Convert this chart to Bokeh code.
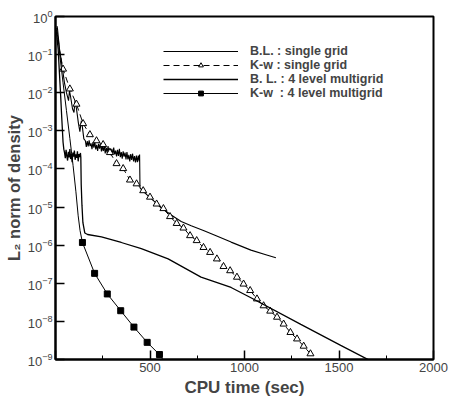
from bokeh.plotting import figure
from bokeh.models import FixedTicker, Range1d, Legend, LegendItem
from bokeh.embed import file_html
from bokeh.resources import INLINE

# ---- convergence histories: CPU time (sec) and log10 of the L2 density residual ----

# B.L. turbulence model, single grid
bl_single_t = [8, 10.6, 21, 32, 40, 47.5, 58, 69, 74, 79, 90, 98, 103, 111, 121, 129, 137, 142, 150,
               158, 163, 168, 173, 178, 183, 188, 193, 198, 203, 208, 213, 218, 223, 228, 233, 238,
               243, 248, 253, 258, 263, 268, 273, 278, 283, 288, 293, 298, 303, 308, 313, 318, 323,
               328, 333, 338, 343, 348, 353, 358, 363, 368, 373, 378, 383, 388, 393, 398, 403, 408,
               413, 418, 423, 428, 433, 438, 443, 445, 447,
               459, 507, 559, 612, 665, 718, 786, 850, 929, 1034, 1113, 1166]
bl_single_log = [-0.25, -0.32, -0.85, -1.21, -1.48, -1.74, -2.00, -2.21, -1.95, -2.08, -2.42, -2.52,
                 -2.21, -2.42, -2.79, -3.02, -2.73, -2.89, -3.21,
                 -3.26, -3.42, -3.27, -3.41, -3.25, -3.40, -3.33, -3.48, -3.30, -3.44, -3.29, -3.49,
                 -3.37, -3.53, -3.34, -3.47, -3.33, -3.54, -3.40, -3.53, -3.38, -3.59, -3.45, -3.57,
                 -3.40, -3.56, -3.45, -3.64, -3.47, -3.63, -3.44, -3.62, -3.52, -3.67, -3.50, -3.66,
                 -3.47, -3.69, -3.56, -3.73, -3.54, -3.68, -3.57, -3.75, -3.56, -3.75, -3.63, -3.80,
                 -3.61, -3.76, -3.60, -3.80, -3.66, -3.83, -3.65, -3.82, -3.65, -3.80, -3.62, -4.49,
                 -4.57, -4.78, -5.02, -5.21, -5.38, -5.49, -5.62, -5.75, -5.92, -6.13, -6.25, -6.33]

# k-omega model, single grid (line and symbols)
kw_single_line_t = [6, 20]
kw_single_line_log = [-0.30, -0.85]
kw_single_t = [40, 76, 111, 146, 182, 217, 252, 288, 323, 358, 394, 429, 464, 500, 535, 571, 606,
               641, 677, 712, 747, 783, 818, 854, 889, 924, 960, 995, 1030, 1066, 1101, 1136, 1172,
               1207, 1243, 1278, 1313, 1349]
kw_single_log = [-1.38, -1.90, -2.30, -2.81, -3.10, -3.26, -3.36, -3.57, -3.86, -3.99, -4.29, -4.39,
                 -4.57, -4.74, -4.92, -5.04, -5.25, -5.43, -5.55, -5.75, -5.88, -6.06, -6.19, -6.36,
                 -6.56, -6.67, -6.84, -7.02, -7.19, -7.41, -7.59, -7.73, -7.89, -8.07, -8.29, -8.46,
                 -8.65, -8.85]

# B.L. turbulence model, 4 level multigrid
bl_mg_t = [5, 14, 21, 27, 33, 40, 44,
           48, 52, 56, 60, 64, 68, 72, 76, 80, 84, 88, 92, 96, 100, 104, 108, 112, 116, 120, 124,
           128, 132,
           134, 136, 140, 145, 155, 170, 243, 348, 454, 596, 770, 929, 1034, 1298, 1509, 1657]
bl_mg_log = [-0.40, -0.85, -1.50, -2.05, -2.65, -3.30, -3.48,
             -3.58, -3.72, -3.50, -3.66, -3.78, -3.55, -3.70, -3.48, -3.74, -3.60, -3.82, -3.57,
             -3.68, -3.52, -3.76, -3.62, -3.71, -3.54, -3.80, -3.61, -3.69, -3.58,
             -3.70, -4.40, -4.95, -5.41, -5.68, -5.72, -5.78, -5.93, -6.09, -6.36, -6.84, -7.11,
             -7.38, -8.08, -8.63, -9.01]

# k-omega model, 4 level multigrid (line and symbols)
kw_mg_line_t = [5, 16, 23, 40, 58, 76, 93, 108, 120, 130,
                142.5, 207, 274, 345, 415, 485, 550, 575]
kw_mg_line_log = [-0.35, -0.64, -1.03, -1.74, -2.47, -3.20, -3.91, -4.60, -5.23, -5.62,
                  -5.93, -6.74, -7.28, -7.72, -8.15, -8.55, -8.87, -9.05]
kw_mg_t = [142.5, 207, 274, 345, 415, 485, 550]
kw_mg_log = [-5.93, -6.74, -7.28, -7.72, -8.15, -8.55, -8.87]

x_major = [0, 500, 1000, 1500, 2000]
x_minor = [250, 750, 1250, 1750]
y_major = [1e-9, 1e-8, 1e-7, 1e-6, 1e-5, 1e-4, 1e-3, 1e-2, 1e-1, 1.0]

legend_labels = ["B.L. : single grid", "K-w : single grid",
                 "B. L. : 4 level multigrid", "K-w  : 4 level multigrid"]


def pow10(logs):
    return [10.0 ** v for v in logs]


p = figure(width=451, height=401, x_range=Range1d(0, 2000), y_range=Range1d(1e-9, 1.0),
           y_axis_type="log", output_backend="svg", toolbar_location=None,
           min_border_left=55, min_border_right=18, min_border_top=16, min_border_bottom=42)
p.background_fill_color = "white"
p.border_fill_color = "white"
p.outline_line_color = "black"
p.outline_line_width = 2
p.xgrid.visible = False
p.ygrid.visible = False

FONT = "Liberation Sans"

xa = p.xaxis[0]
xa.ticker = FixedTicker(ticks=x_major, minor_ticks=x_minor)
xa.major_label_overrides = {0: ""}
xa.axis_label = "CPU time (sec)"
xa.axis_label_text_font = FONT
xa.axis_label_text_font_style = "bold"
xa.axis_label_text_font_size = "17px"
xa.axis_label_standoff = 3
xa.major_label_text_font = FONT
xa.major_label_text_font_size = "13px"
xa.major_label_standoff = 3
xa.major_tick_in = 9
xa.major_tick_out = 0
xa.minor_tick_in = 4
xa.minor_tick_out = 0
xa.axis_line_width = 2
xa.major_tick_line_width = 1.5

ya = p.yaxis[0]
ya.ticker = FixedTicker(ticks=y_major, minor_ticks=[])
ya.axis_label = "L₂ norm of density"
ya.axis_label_text_font = FONT
ya.axis_label_text_font_style = "bold"
ya.axis_label_text_font_size = "16.5px"
ya.axis_label_standoff = 2
ya.major_label_text_font = FONT
ya.major_label_text_font_size = "13px"
ya.major_label_standoff = 3
ya.major_tick_in = 9
ya.major_tick_out = 0
ya.minor_tick_in = 0
ya.minor_tick_out = 0
ya.axis_line_width = 2
ya.major_tick_line_width = 1.5

r_bl_single = p.line(bl_single_t, pow10(bl_single_log), line_color="black", line_width=1.1)

r_kw_single_line = p.line(kw_single_line_t + kw_single_t, pow10(kw_single_line_log + kw_single_log),
                          line_color="black", line_width=1, line_dash="6 4")
r_kw_single_pts = p.scatter(kw_single_t, pow10(kw_single_log), marker="triangle", size=7,
                            fill_color="white", line_color="black", line_width=1)

r_bl_mg = p.line(bl_mg_t, pow10(bl_mg_log), line_color="black", line_width=1.3)

r_kw_mg_line = p.line(kw_mg_line_t, pow10(kw_mg_line_log), line_color="black", line_width=1)
r_kw_mg_pts = p.scatter(kw_mg_t, pow10(kw_mg_log), marker="square", size=6,
                        fill_color="black", line_color="black")

legend = Legend(items=[
    LegendItem(label=legend_labels[0], renderers=[r_bl_single]),
    LegendItem(label=legend_labels[1], renderers=[r_kw_single_line, r_kw_single_pts]),
    LegendItem(label=legend_labels[2], renderers=[r_bl_mg]),
    LegendItem(label=legend_labels[3], renderers=[r_kw_mg_line, r_kw_mg_pts]),
], location=(108, 259.5))
legend.glyph_width = 75
legend.glyph_height = 12
legend.label_height = 12
legend.spacing = 0
legend.padding = 0
legend.margin = 0
legend.label_standoff = 12
legend.label_text_font = FONT
legend.label_text_font_style = "bold"
legend.label_text_font_size = "12.5px"
legend.border_line_color = None
legend.background_fill_alpha = 0
p.add_layout(legend)

open("out.html", "w").write(file_html(p, INLINE))
